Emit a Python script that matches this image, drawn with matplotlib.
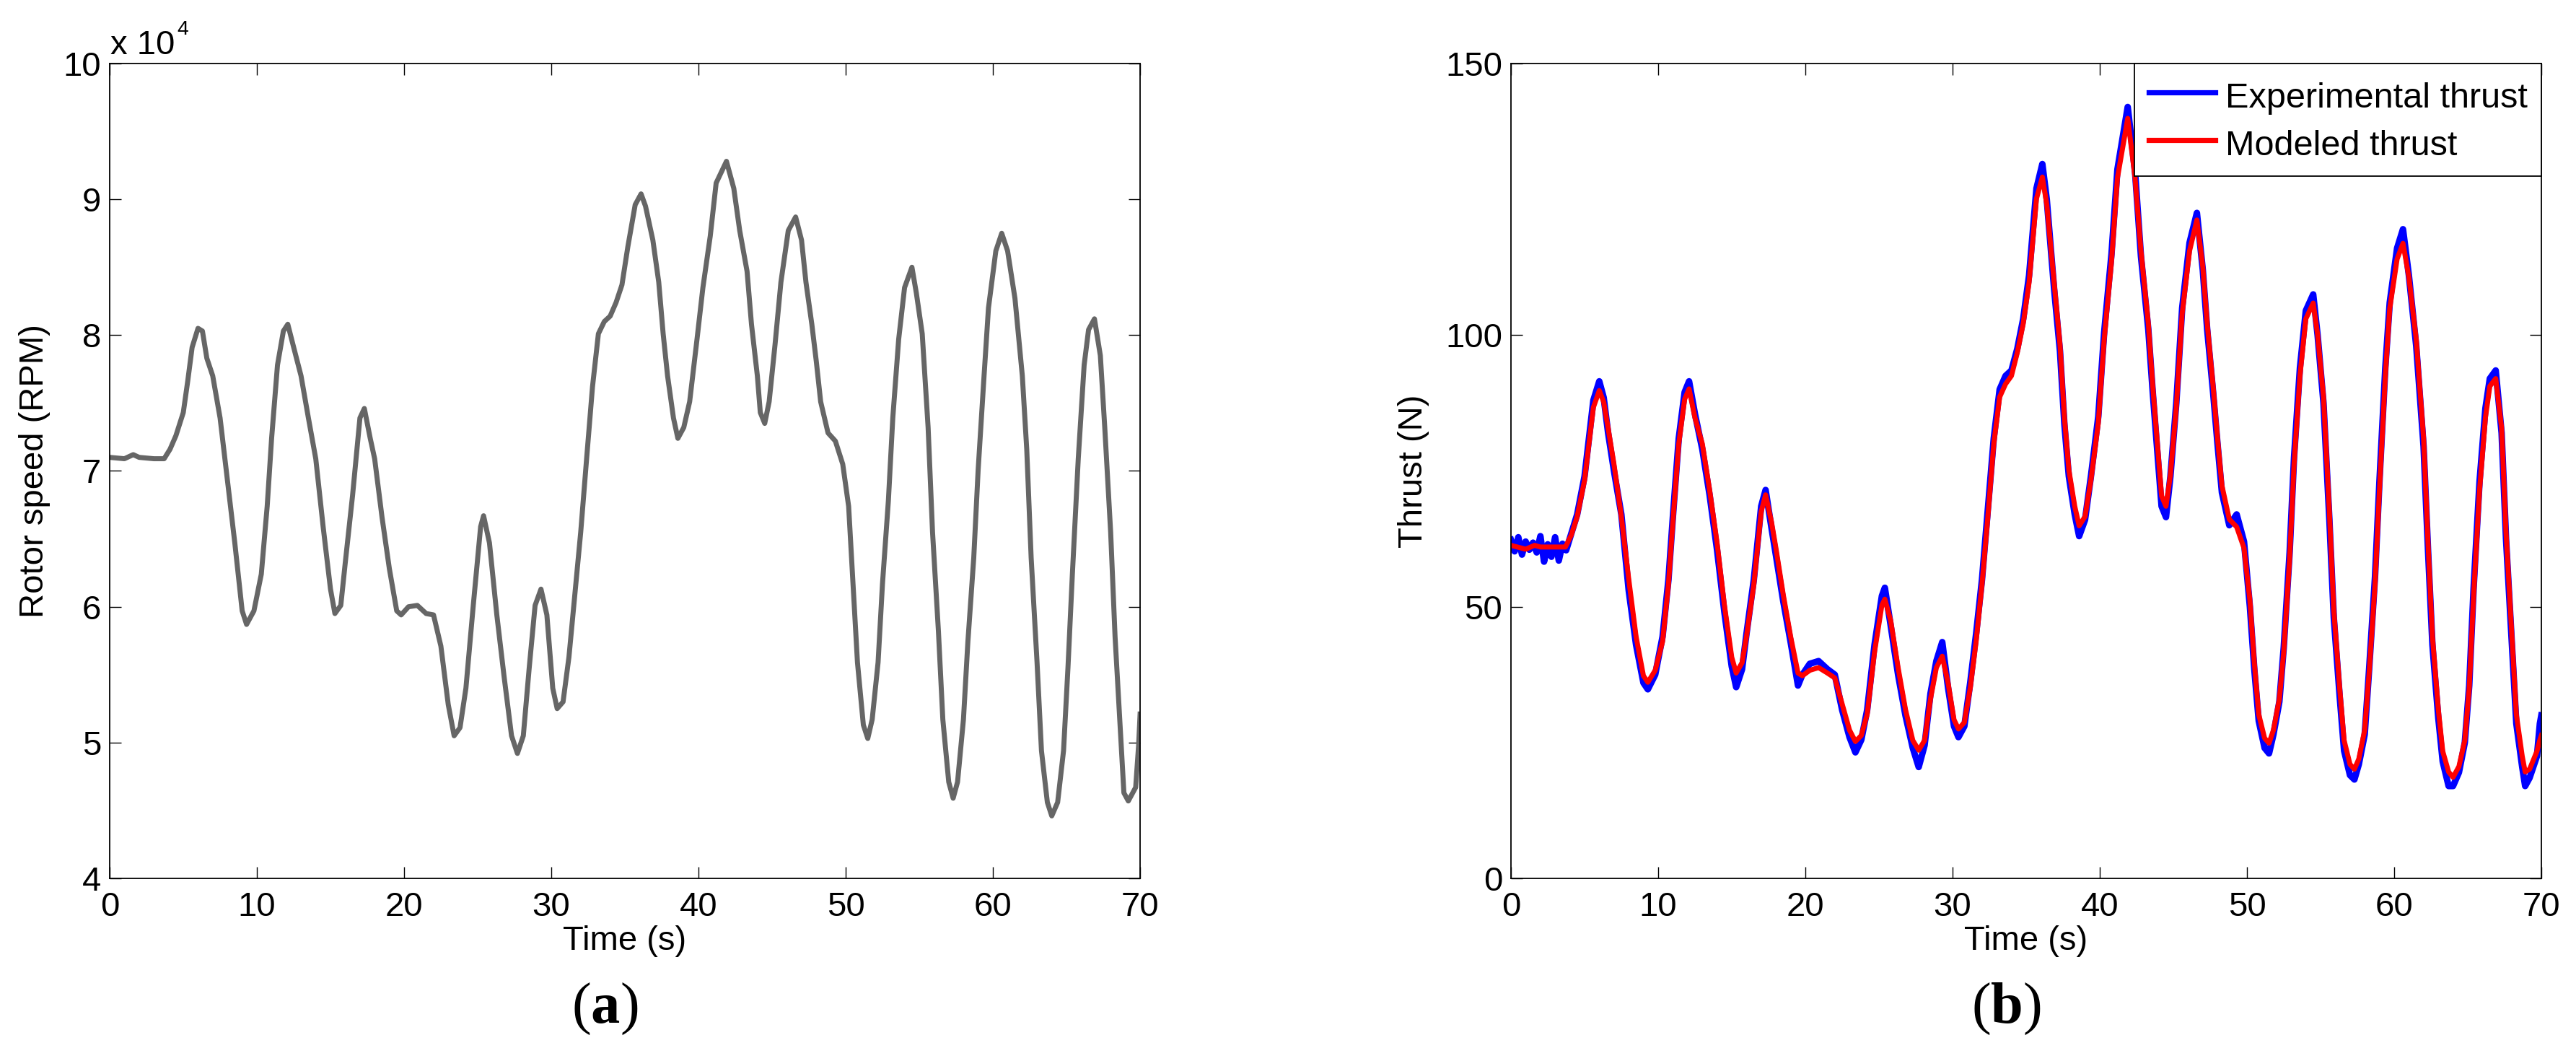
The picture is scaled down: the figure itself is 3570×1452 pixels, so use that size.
import matplotlib
matplotlib.use("Agg")
import matplotlib.pyplot as plt
from matplotlib.ticker import FuncFormatter

plt.rcParams["font.family"] = ["Liberation Sans", "DejaVu Sans"]
plt.rcParams["mathtext.fontset"] = "custom"
plt.rcParams["mathtext.rm"] = "Liberation Serif"
plt.rcParams["mathtext.bf"] = "Liberation Serif:bold"

# time samples (s)
t_s = [0, 1, 1.6, 2, 3, 3.7, 4.1, 4.5, 5, 5.3, 5.6, 6, 6.3, 6.6, 7, 7.5, 8,
       8.5, 9, 9.3, 9.8, 10.3, 10.7, 11, 11.4, 11.8, 12.1, 12.5, 13, 13.5,
       14, 14.5, 15, 15.3, 15.7, 16, 16.5, 17, 17.3, 17.7, 18, 18.5, 19,
       19.5, 19.8, 20.3, 20.9, 21.5, 22, 22.5, 23, 23.4, 23.8, 24.2, 24.7,
       25.2, 25.4, 25.8, 26.3, 26.8, 27.3, 27.7, 28.1, 28.5, 28.9, 29.3,
       29.7, 30.1, 30.4, 30.8, 31.2, 31.6, 32, 32.4, 32.8, 33.2, 33.6, 34,
       34.4, 34.8, 35.2, 35.7, 36.1, 36.4, 36.9, 37.3, 37.6, 37.9, 38.3,
       38.6, 39.0, 39.4, 39.9, 40.3, 40.8, 41.2, 41.9, 42.4, 42.8, 43.3,
       43.6, 44.0, 44.2, 44.5, 44.8, 45.2, 45.6, 46.1, 46.6, 47.0, 47.3,
       47.7, 48.0, 48.3, 48.8, 49.3, 49.8, 50.2, 50.5, 50.8, 51.2, 51.5,
       51.8, 52.2, 52.5, 52.9, 53.2, 53.6, 54.0, 54.5, 54.8, 55.2, 55.6,
       55.9, 56.3, 56.6, 57.0, 57.3, 57.6, 58.0, 58.3, 58.7, 59.0, 59.4,
       59.7, 60.2, 60.6, 61.0, 61.5, 62.0, 62.3, 62.6, 63.0, 63.3, 63.7,
       64.0, 64.4, 64.8, 65.1, 65.4, 65.8, 66.2, 66.5, 66.9, 67.3, 67.6,
       68.0, 68.3, 68.7, 68.9, 69.2, 69.7, 69.9, 70.0]

# rotor speed (RPM)
rpm = [71000, 70900, 71200, 71000, 70900, 70900, 71600, 72600, 74300,
       76600, 79100, 80500, 80300, 78300, 77000, 73900, 69300, 64700,
       59700, 58700, 59700, 62400, 67400, 72400, 77800, 80300, 80800,
       79100, 77000, 73900, 70900, 65900, 61300, 59500, 60100, 63200,
       68200, 73900, 74600, 72400, 70900, 66600, 62800, 59700, 59400,
       60000, 60100, 59500, 59400, 57100, 52800, 50500, 51100, 54000,
       60100, 65900, 66700, 64700, 59400, 54800, 50500, 49200, 50500,
       55500, 60100, 61300, 59400, 54000, 52500, 53000, 56300, 60900,
       65500, 70900, 76200, 80100, 81000, 81400, 82400, 83700, 86500,
       89600, 90400, 89500, 87000, 83900, 80100, 77000, 73900, 72400,
       73200, 75100, 79700, 83500, 87300, 91200, 92800, 90800, 87700,
       84700, 80800, 77000, 74300, 73500, 75100, 79300, 83900, 87700,
       88700, 87000, 83900, 80800, 78100, 75100, 72800, 72200, 70500,
       67400, 61700, 55900, 51300, 50300, 51700, 55900, 61700, 67800,
       73900, 79700, 83500, 85000, 83100, 80100, 73200, 65500, 58200,
       51700, 47100, 45900, 47100, 51700, 57400, 63600, 70100, 77000,
       82000, 86200, 87500, 86200, 82700, 77000, 71600, 63600, 55900,
       49400, 45600, 44600, 45600, 49400, 55500, 62400, 70900, 77800,
       80400, 81200, 78500, 73200, 65500, 57800, 50200, 46300, 45700,
       46700, 49800, 52100]

# modeled thrust (N)
thrust_mod = [61.3, 60.6, 61.3, 61.0, 61.0, 61.0, 63.2, 66.6, 73.3, 80.0,
              86.7, 89.8, 87.7, 82.9, 76.2, 66.6, 55.1, 44.5, 37.3, 36.1,
              38.3, 43.6, 54.1, 65.6, 80.0, 88.2, 90.1, 84.8, 80.0, 71.4,
              61.8, 50.3, 40.7, 37.8, 39.7, 44.5, 54.1, 67.5, 70.6, 65.6,
              60.8, 52.2, 44.5, 37.8, 37.3, 38.3, 38.8, 37.8, 36.9, 32.1,
              27.3, 25.2, 26.3, 30.2, 41.7, 50.3, 51.4, 47.4, 38.8, 31.1,
              25.4, 23.6, 25.4, 33.0, 38.8, 40.9, 35.9, 29.2, 27.5, 28.7,
              35.0, 43.6, 54.1, 66.6, 80.0, 88.6, 91.0, 92.5, 96.8, 102.1,
              109.7, 125.1, 129.1, 124.1, 109.7, 98.2, 84.8, 75.2, 68.5,
              64.9, 66.6, 73.3, 83.8, 99.2, 113.6, 128.9, 139.9, 128.9,
              115.5, 102.1, 90.6, 77.1, 70.4, 68.5, 74.3, 86.7, 104.0,
              115.5, 121.2, 112.6, 102.1, 90.6, 81.0, 72.3, 66.1, 64.7,
              60.8, 51.2, 39.7, 30.2, 25.8, 24.9, 27.3, 33.0, 41.7, 58.9,
              76.2, 92.5, 103.0, 105.9, 100.1, 88.6, 67.5, 49.3, 35.0,
              25.4, 21.0, 20.1, 22.0, 27.3, 37.8, 54.1, 71.4, 92.5, 104.9,
              114.0, 116.9, 110.7, 99.2, 81.0, 61.8, 44.5, 31.1, 23.4,
              19.6, 18.6, 20.6, 25.4, 35.0, 52.2, 71.4, 84.8, 90.6, 92.0,
              82.9, 63.7, 44.5, 30.2, 22.5, 19.6, 20.1, 23.4, 25.5, 26.3]

# experimental thrust (N): noisy start, then the same time samples
t_exp = [0, 0.25, 0.5, 0.75, 1.0, 1.25, 1.5, 1.75, 2.0, 2.25, 2.5, 2.75,
         3.0, 3.25, 3.5, 3.75] + t_s[6:]
thrust_exp = [62.3, 60.2, 62.8, 59.6, 62.0, 60.5, 61.8, 60.0, 63.0, 58.3,
              61.5, 59.2, 62.8, 58.5, 61.6, 60.4,
              63.5, 67, 74, 81, 88, 91.5, 88.5, 82, 75, 67, 53, 43, 36,
              34.8, 37.5, 44.5, 55, 66.5, 81, 89.5, 91.5, 85.5, 79, 70.5,
              60.5, 49, 39, 35.2, 38.5, 45, 55, 68.5, 71.5, 64.5, 59.5, 51,
              43.5, 35.5, 37.5, 39.5, 40, 38.5, 37.5, 31, 26, 23.2, 25.5,
              31, 43, 52, 53.5, 46.5, 37.5, 30, 24, 20.5, 24.5, 34, 40,
              43.5, 35, 28, 26, 28, 36, 45, 55, 68, 81, 90, 92.5, 93.5,
              97.5, 103, 111, 127, 131.5, 125, 108.5, 97, 83.5, 74, 67, 63,
              66, 74, 85, 100.5, 115, 130.5, 142, 130, 114.5, 101, 89.5,
              75.5, 68.5, 66.5, 74, 87.5, 105, 117, 122.5, 112, 101, 89.5,
              80, 71, 65, 67, 62, 50, 38.5, 29, 24, 23, 26.5, 32.5, 42.5,
              60, 77.5, 94, 104.5, 107.5, 100, 87.5, 66, 48, 33.5, 23.5, 19,
              18.2, 21, 26.5, 38.5, 55.5, 73, 94, 106, 116, 119.5, 111, 98,
              79.5, 60.5, 43, 29.5, 21.5, 17, 17, 19.5, 25, 35.5, 53.5, 73,
              86.5, 92, 93.5, 82, 62.5, 43, 28.5, 20.5, 17, 18.5, 22.5,
              28.5, 30]

x_ticks = [0, 10, 20, 30, 40, 50, 60, 70]
rpm_ticks = [40000, 50000, 60000, 70000, 80000, 90000, 100000]
thrust_ticks = [0, 50, 100, 150]

fs = 34
fig = plt.figure(figsize=(35.7, 14.52), dpi=100)
ax1 = fig.add_axes([0.04258, 0.16185, 0.4, 0.77755])
ax2 = fig.add_axes([0.58655, 0.16185, 0.4, 0.77755])

for ax in (ax1, ax2):
    ax.set_xlim(0, 70)
    ax.set_xticks(x_ticks)
    ax.tick_params(direction="in", top=True, right=True, length=11.5,
                   width=1.0, labelsize=fs)
    ax.tick_params(axis="x", pad=13)
    ax.tick_params(axis="y", pad=8.5)
    for sp in ax.spines.values():
        sp.set_linewidth(1.3)
    ax.set_xlabel("Time (s)", fontsize=fs)
    ax.xaxis.set_label_coords(0.5, -0.058)

# (a) rotor speed
ax1.plot(t_s, rpm, color="#666666", lw=5.0, solid_joinstyle="round")
ax1.set_ylim(40000, 100000)
ax1.set_yticks(rpm_ticks)
ax1.yaxis.set_major_formatter(FuncFormatter(lambda v, p: f"{v / 1e4:g}"))
ax1.set_ylabel("Rotor speed (RPM)", fontsize=fs)
ax1.yaxis.set_label_coords(-0.0574, 0.5)
ax1.text(0.0007, 1.0115, "x 10", transform=ax1.transAxes, fontsize=fs,
         ha="left", va="baseline")
ax1.text(0.0651, 1.0354, "4", transform=ax1.transAxes, fontsize=fs * 0.6,
         ha="left", va="baseline")

# (b) thrust
ax2.plot(t_exp, thrust_exp, color="#0000ff", lw=6.5,
         solid_joinstyle="round", label="Experimental thrust")
ax2.plot(t_s, thrust_mod, color="#ff0000", lw=5.0,
         solid_joinstyle="round", label="Modeled thrust")
ax2.set_ylim(0, 150)
ax2.set_yticks(thrust_ticks)
ax2.set_ylabel("Thrust (N)", fontsize=fs)
ax2.yaxis.set_label_coords(-0.079, 0.5)
leg = ax2.legend(loc="upper right", fontsize=35, borderaxespad=0,
                 fancybox=False, framealpha=1, edgecolor="black",
                 borderpad=0.4, labelspacing=0.3, handlelength=1.9,
                 handleheight=1.2, handletextpad=0.28)
leg.get_frame().set_linewidth(1.3)
for ln in leg.get_lines():
    ln.set_linewidth(5.2)

fig.text(0.2347, 0.0241, r"$(\mathbf{a})$", fontsize=58, ha="center",
         va="baseline")
fig.text(0.7787, 0.0241, r"$(\mathbf{b})$", fontsize=58, ha="center",
         va="baseline")

fig.savefig("out.png", dpi=100)
